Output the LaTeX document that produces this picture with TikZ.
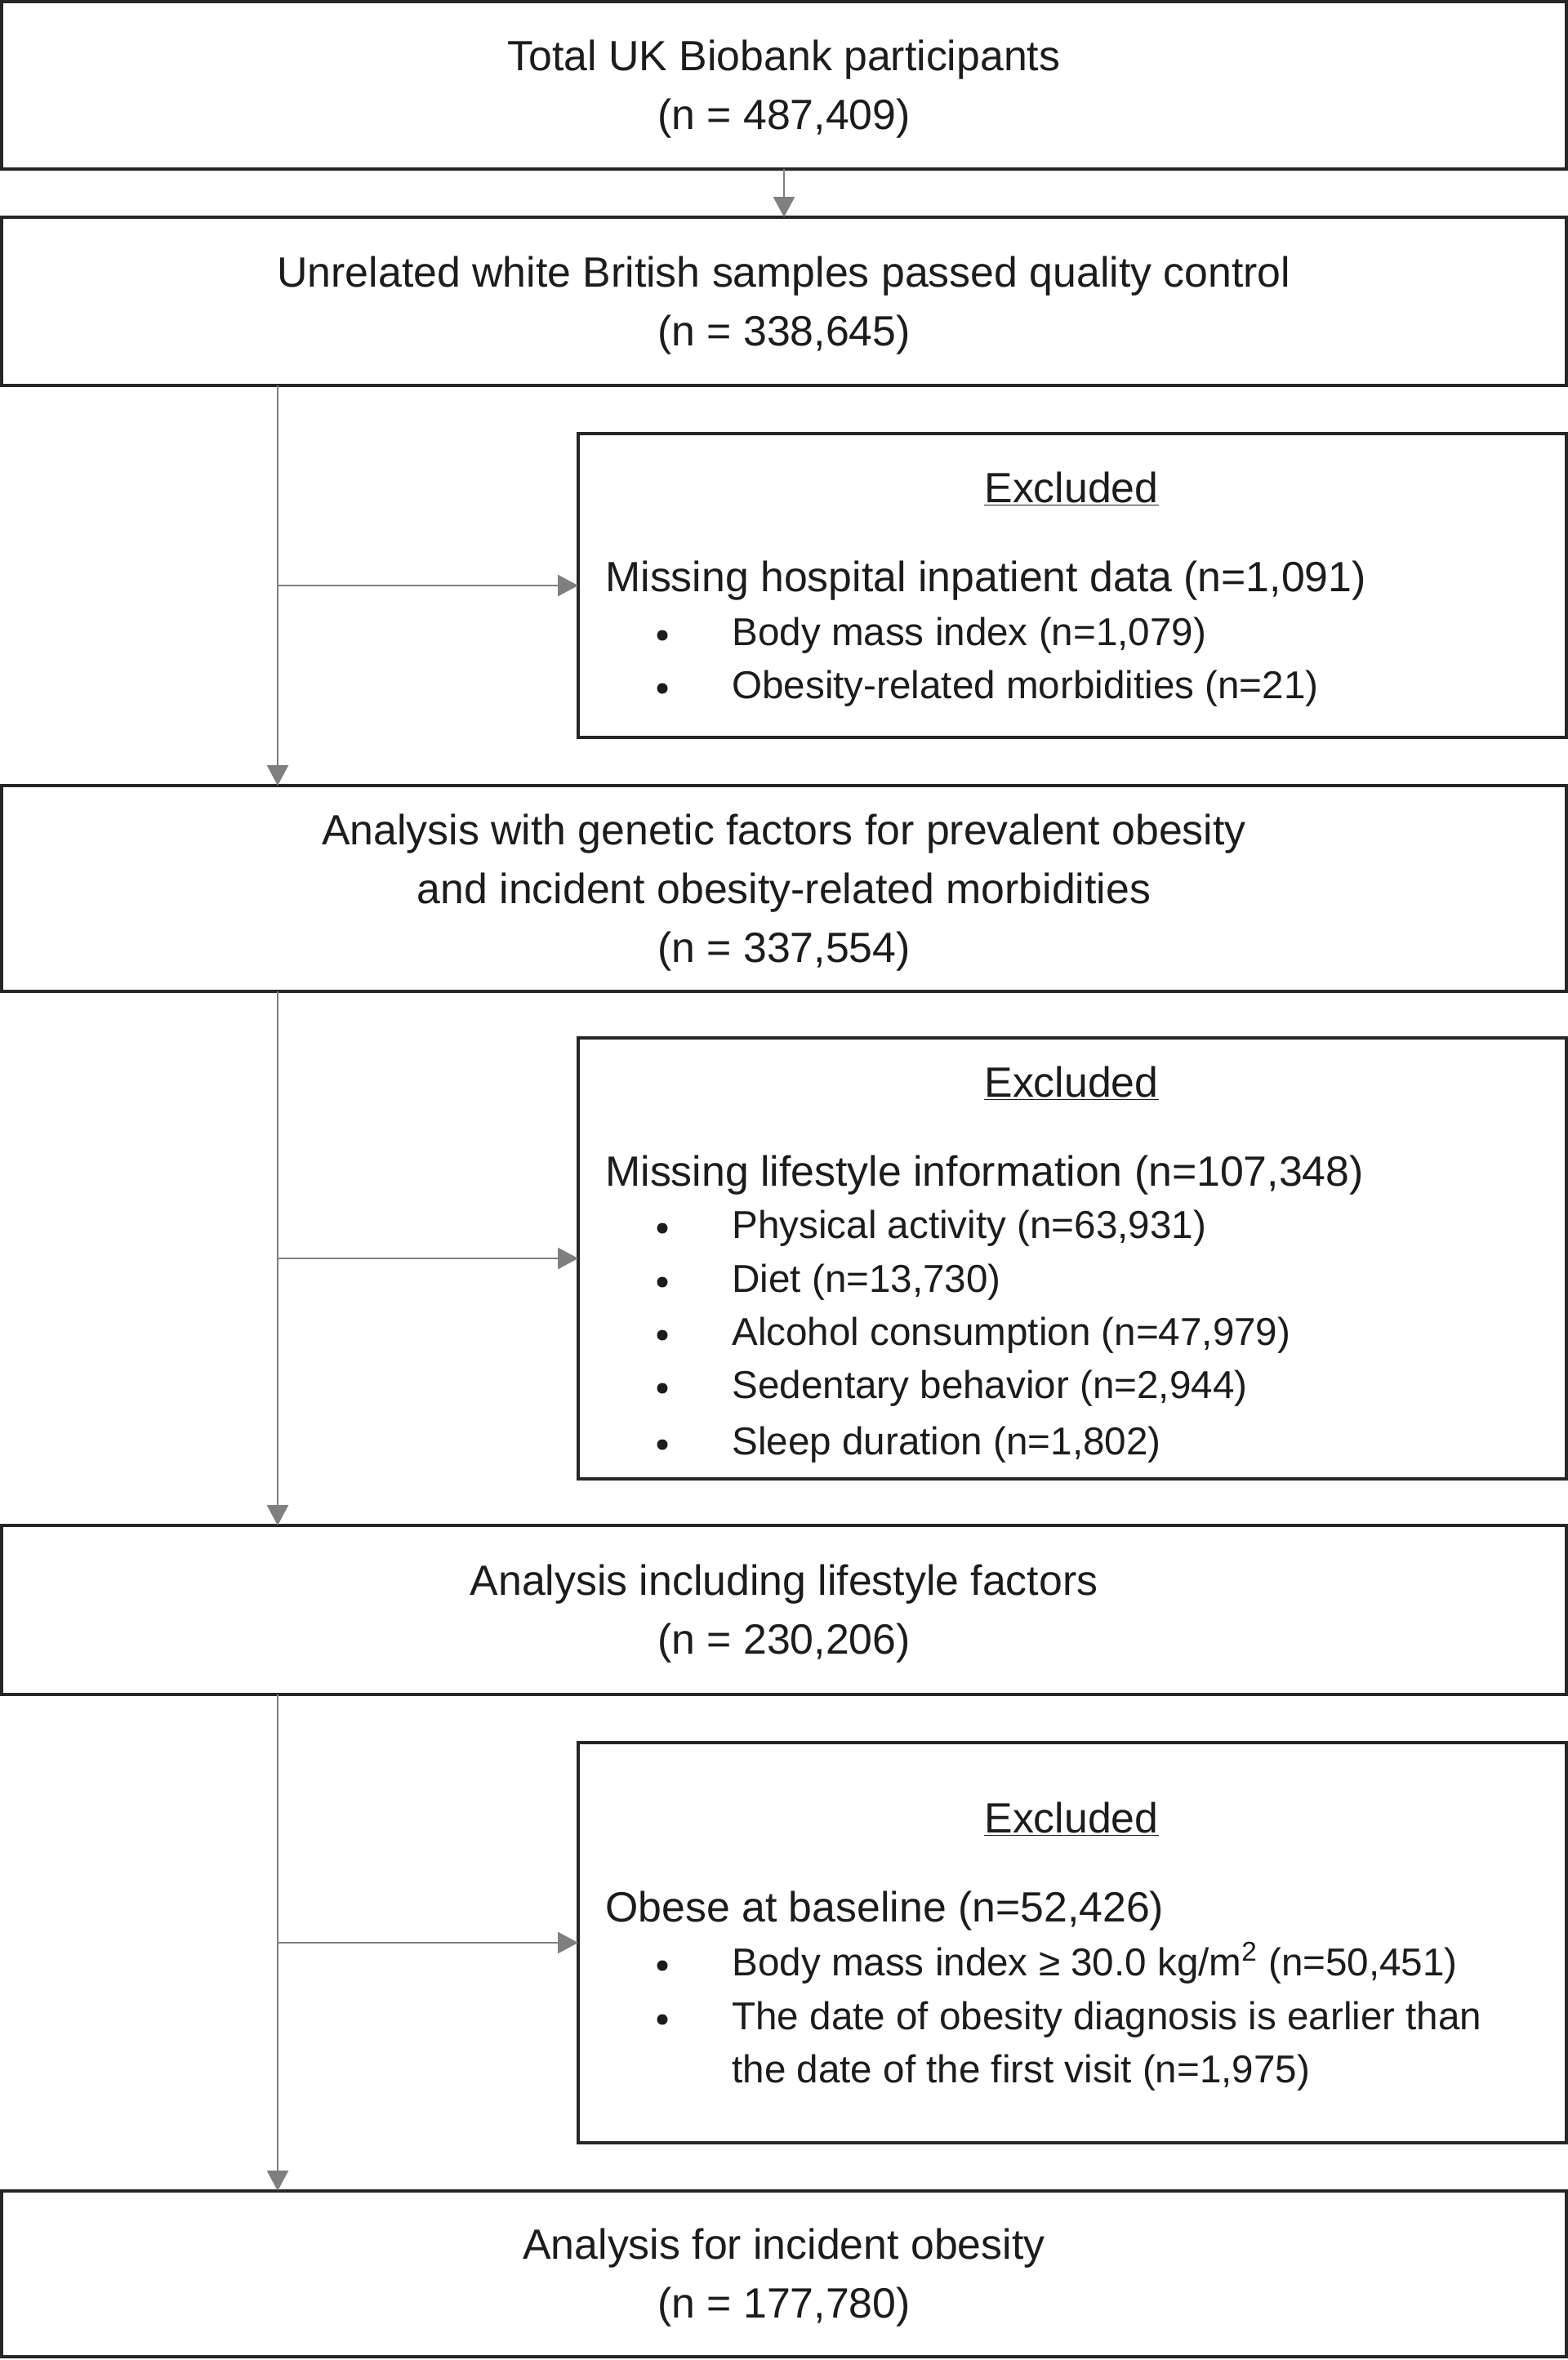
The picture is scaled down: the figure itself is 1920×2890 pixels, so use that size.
\documentclass[tikz,border=0pt]{standalone}
\usepackage{fontspec}
\setmainfont{Liberation Sans}
\usetikzlibrary{arrows.meta}
\definecolor{boxc}{HTML}{262626}
\definecolor{arrc}{HTML}{7F7F7F}
\definecolor{txtc}{HTML}{1C1C1C}
\begin{document}
\begin{tikzpicture}[x=0.5pt,y=-0.5pt,
  box/.style={draw=boxc, line width=1.6pt, rectangle, inner sep=0pt, outer sep=0pt,
    anchor=north west},
  mtxt/.style={inner sep=0pt, align=center, text=txtc, font=\fontsize{25.9pt}{36pt}\selectfont},
  arr/.style={draw=arrc, line width=1.4pt, -{Triangle[length=12.5pt,width=13pt]}},
  txt/.style={anchor=west, inner sep=0pt, text=txtc, text height=22.5pt, text depth=4pt,
    font=\fontsize{25.9pt}{36pt}\selectfont},
  btxt/.style={txt, font=\fontsize{23.8pt}{34pt}\selectfont},
  head/.style={txt, anchor=center},
  dot/.style={circle, fill=txtc, inner sep=0pt, minimum size=6.5pt}]
\useasboundingbox (0,0) rectangle (1920,2890);
\fill[white] (0,0) rectangle (1920,2890);

% main boxes
\node[box, minimum width=958pt, minimum height=102.5pt] (b1) at (2,2) {};
\node[box, minimum width=958pt, minimum height=103pt] (b2) at (2,266) {};
\node[box, minimum width=958pt, minimum height=126pt] (b3) at (2,962) {};
\node[box, minimum width=958pt, minimum height=103.5pt] (b4) at (2,1868) {};
\node[box, minimum width=958pt, minimum height=101.5pt] (b5) at (2,2683) {};

\node[mtxt] (b1t) at ([yshift=-2.5pt]b1.center)
  {Total UK Biobank participants\\(n = 487,409)};
\node[mtxt] (b2t) at ([yshift=-2.5pt]b2.center)
  {Unrelated white British samples passed quality control\\(n = 338,645)};
\node[mtxt] (b3t) at ([yshift=-2.5pt]b3.center)
  {Analysis with genetic factors for prevalent obesity\\and incident obesity-related morbidities\\(n = 337,554)};
\node[mtxt] (b4t) at ([yshift=-2.5pt]b4.center)
  {Analysis including lifestyle factors\\(n = 230,206)};
\node[mtxt] (b5t) at ([yshift=-2.5pt]b5.center)
  {Analysis for incident obesity\\(n = 177,780)};

% excluded boxes
\node[box, minimum width=605pt, minimum height=186pt] (e1) at (708,531) {};
\node[box, minimum width=605pt, minimum height=270pt] (e2) at (708,1271) {};
\node[box, minimum width=605pt, minimum height=245pt] (e3) at (708,2134) {};

% excluded box 1 text
\node[head] (e1h) at (1312,597) {\underline{Excluded}};
\node[txt] (e1m) at (741,706) {Missing hospital inpatient data (n=1,091)};
\node[dot] (e1d1) at (811,778) {};
\node[btxt] (e1t1) at (896,772) {Body mass index (n=1,079)};
\node[dot] (e1d2) at (811,843) {};
\node[btxt] (e1t2) at (896,837) {Obesity-related morbidities (n=21)};

% excluded box 2 text
\node[head] (e2h) at (1312,1325) {\underline{Excluded}};
\node[txt] (e2m) at (741,1434) {Missing lifestyle information (n=107,348)};
\node[dot] (e2d1) at (811,1504) {};
\node[btxt] (e2t1) at (896,1498) {Physical activity (n=63,931)};
\node[dot] (e2d2) at (811,1570) {};
\node[btxt] (e2t2) at (896,1564) {Diet (n=13,730)};
\node[dot] (e2d3) at (811,1635) {};
\node[btxt] (e2t3) at (896,1629) {Alcohol consumption (n=47,979)};
\node[dot] (e2d4) at (811,1700) {};
\node[btxt] (e2t4) at (896,1694) {Sedentary behavior (n=2,944)};
\node[dot] (e2d5) at (811,1769) {};
\node[btxt] (e2t5) at (896,1763) {Sleep duration (n=1,802)};

% excluded box 3 text
\node[head] (e3h) at (1312,2226) {\underline{Excluded}};
\node[txt] (e3m) at (741,2335) {Obese at baseline (n=52,426)};
\node[dot] (e3d1) at (811,2407) {};
\node[btxt] (e3t1) at (896,2401) {Body mass index ≥ 30.0 kg/m\textsuperscript{2} (n=50,451)};
\node[dot] (e3d2) at (811,2473) {};
\node[btxt] (e3t2) at (896,2467) {The date of obesity diagnosis is earlier than};
\node[btxt] (e3t3) at (896,2532) {the date of the first visit (n=1,975)};

% connectors
\draw[arr] (b1.south) -- (b2.north);
\coordinate (s2) at (340,472);
\coordinate (s3) at (340,1214);
\coordinate (s4) at (340,2075);
\draw[arr] (s2) -- (s2 |- b3.north);
\draw[arr] (s3) -- (s3 |- b4.north);
\draw[arr] (s4) -- (s4 |- b5.north);
\draw[arr] (e1.west -| s2) -- (e1.west);
\draw[arr] (e2.west -| s3) -- (e2.west);
\draw[arr] (e3.west -| s4) -- (e3.west);
\end{tikzpicture}
\end{document}
